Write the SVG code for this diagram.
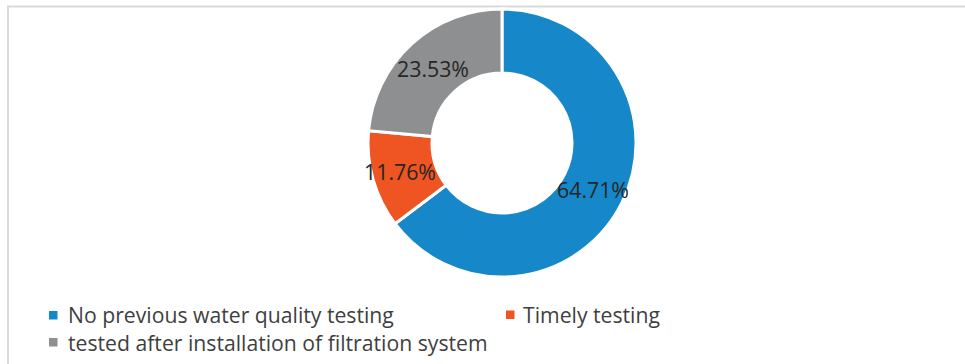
<svg xmlns="http://www.w3.org/2000/svg" width="965" height="364" viewBox="0 0 965 364">
  <style>
    .slice { stroke: #ffffff; stroke-width: 3; stroke-linejoin: miter; }
    .blue { fill: #1688C9; }
    .orange { fill: #EE5522; }
    .gray { fill: #8E8F91; }
    .pct { font-family: "Open Sans", "Liberation Sans", sans-serif; font-size: 21.3px; fill: #262626; text-anchor: middle; }
    .leg { font-family: "Open Sans", "Liberation Sans", sans-serif; font-size: 21.2px; fill: #3F3F3F; }
    .frame { stroke: #DADADA; stroke-width: 2; fill: none; }
  </style>
  <rect width="965" height="364" fill="#ffffff"/>
  <!-- chart area frame (top and left edges) -->
  <path class="frame" d="M8,364 V6.5 H965"/>

  <!-- doughnut slices, clockwise from 12 o'clock; centre (502,143), R=134, r=70 -->
  <g id="slice-no-testing">
    <path class="slice blue" d="M502,9 A134,134 0 1,1 395.07,223.74 L446.14,185.18 A70,70 0 1,0 502,73 Z"/>
  </g>
  <g id="slice-timely">
    <path class="slice orange" d="M395.07,223.74 A134,134 0 0,1 368.57,130.65 L432.30,136.55 A70,70 0 0,0 446.14,185.18 Z"/>
  </g>
  <g id="slice-after-filtration">
    <path class="slice gray" d="M368.57,130.65 A134,134 0 0,1 502,9 L502,73 A70,70 0 0,0 432.30,136.55 Z"/>
  </g>

  <!-- data labels -->
  <g id="data-labels">
    <text class="pct" x="593" y="198">64.71%</text>
    <text class="pct" x="400" y="180">11.76%</text>
    <text class="pct" x="433" y="77">23.53%</text>
  </g>

  <!-- legend -->
  <g id="legend">
    <g id="legend-no-testing">
      <rect class="blue" x="49" y="311" width="8.5" height="8.5"/>
      <text class="leg" x="68" y="322.5">No previous water quality testing</text>
    </g>
    <g id="legend-timely">
      <rect class="orange" x="506" y="310.5" width="8.5" height="8.5"/>
      <text class="leg" x="523" y="322.5">Timely testing</text>
    </g>
    <g id="legend-after-filtration">
      <rect class="gray" x="49" y="338" width="8.5" height="8.5"/>
      <text class="leg" x="68" y="350.5">tested after installation of filtration system</text>
    </g>
  </g>
</svg>
